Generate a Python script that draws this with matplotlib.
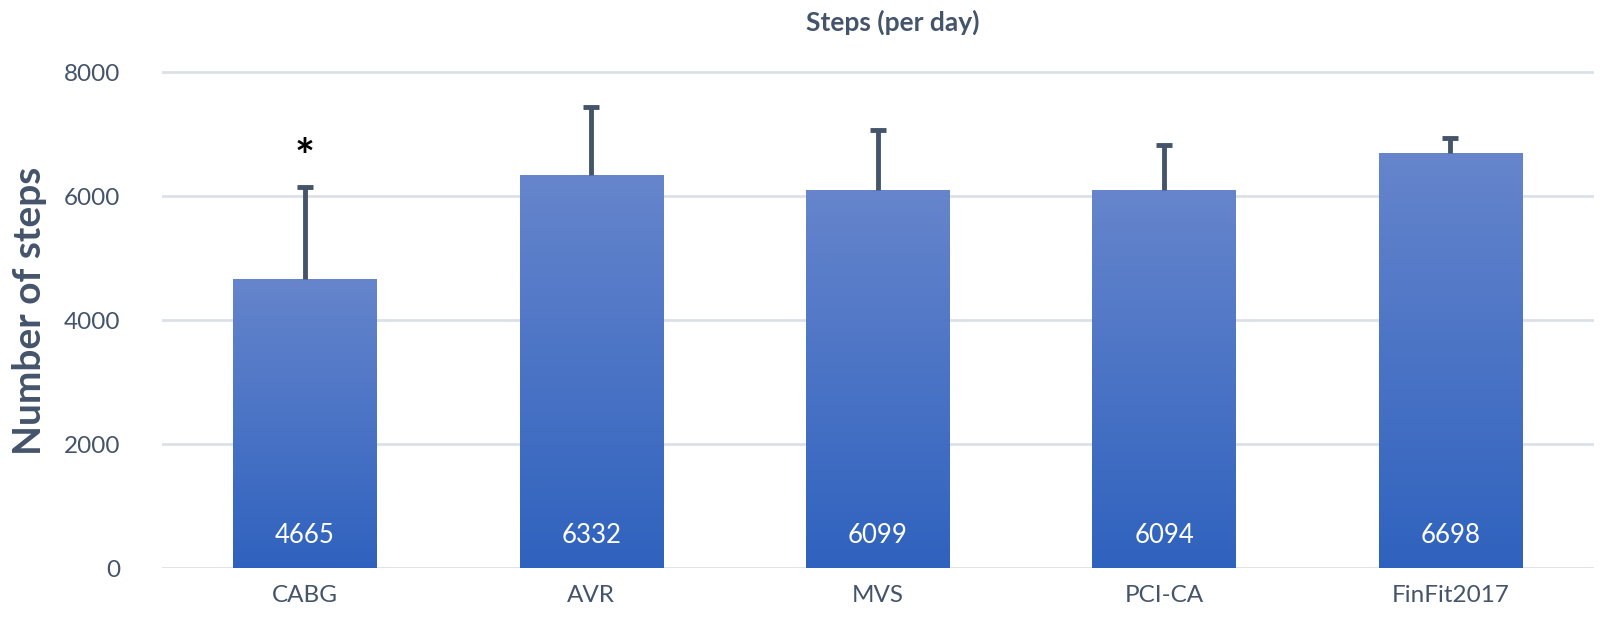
import numpy as np
import matplotlib
matplotlib.use("Agg")
import matplotlib.pyplot as plt
from matplotlib.colors import LinearSegmentedColormap

groups = ["CABG", "AVR", "MVS", "PCI-CA", "FinFit2017"]
steps = [4665, 6332, 6099, 6094, 6698]
sd_up = [1475, 1103, 961, 736, 237]
star_group = "CABG"

txt = "#44546A"
plt.rcParams['font.family'] = ['Lato', 'DejaVu Sans']

fig = plt.figure(figsize=(16, 6.24), dpi=100)
ax = fig.add_axes([0.101, 0.0897, 0.895, 0.8247])

x = np.arange(len(groups))
bars = ax.bar(x, steps, width=0.5, color="none", zorder=2)

# vertical gradient inside each bar
cmap = LinearSegmentedColormap.from_list("g", ["#2F62BE", "#6685CC"])
grad = np.linspace(0, 1, 256).reshape(-1, 1)
for b in bars:
    x0, w, h = b.get_x(), b.get_width(), b.get_height()
    im = ax.imshow(grad, cmap=cmap, origin="lower", aspect="auto",
                   extent=[x0, x0 + w, 0, h], zorder=2)
    im.set_clip_path(b)

# upper error bars only (no cap at the bar top)
tops = np.array(steps) + np.array(sd_up)
ax.vlines(x, steps, tops, color=txt, linewidth=3.5, zorder=3)
ax.plot(x, tops, linestyle="none", marker="_", markersize=11.5,
        markeredgewidth=3.5, color=txt, zorder=3)

for xi, v in zip(x, steps):
    ax.text(xi, 530, str(v), ha="center", va="center", color="white",
            fontsize=18.5, zorder=4)

si = groups.index(star_group)
ax.text(x[si], 6600, "*", ha="center", va="center", fontsize=34,
        fontweight="bold", color="black")

ax.set_xlim(-0.5, len(groups) - 0.5)
ax.set_ylim(0, 8300)
ax.set_yticks([0, 2000, 4000, 6000, 8000])
ax.yaxis.grid(True, color="#DCE1E8", linewidth=2)
ax.set_axisbelow(True)
for s in ax.spines.values():
    s.set_visible(False)
ax.tick_params(length=0, labelsize=17.5, labelcolor=txt)
ax.tick_params(axis="y", pad=30)
ax.tick_params(axis="x", pad=12)
ax.set_xticks(x)
ax.set_xticklabels(groups)

ax.set_ylabel("Number of steps", fontsize=28, fontweight="bold", color=txt,
              labelpad=12)
fig.text(0.558, 0.965, "Steps (per day)", ha="center", va="center",
         fontsize=19, fontweight="bold", color=txt)

fig.savefig("out.png", dpi=100)
